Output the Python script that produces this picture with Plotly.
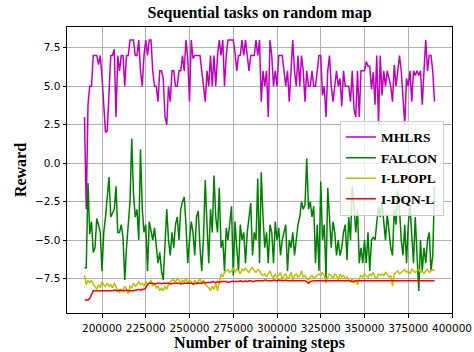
import plotly.graph_objects as go

# Training steps (one evaluation every 1000 steps)
steps = list(range(190000, 390001, 1000))

mhlrs = [
    3.0, -3.0, 3.8, 5.0, 5.0, 7.0, 7.0, 7.0, 6.4, 7.0,
    5.6, 4.0, 2.0, 2.1, 5.0, 7.0, 7.0, 7.4, 3.0, 7.0,
    6.0, 7.0, 7.0, 5.0, 7.0, 7.0, 8.0, 8.0, 8.0, 7.0,
    7.0, 8.0, 6.0, 5.0, 7.0, 8.0, 7.0, 8.0, 8.0, 6.0,
    5.0, 5.0, 4.0, 6.0, 6.0, 5.5, 3.0, 2.5, 5.0, 4.0,
    6.0, 6.0, 5.0, 5.0, 6.0, 6.0, 7.0, 6.0, 8.0, 6.8,
    4.0, 8.0, 6.8, 7.0, 7.0, 7.0, 7.0, 6.0, 5.0, 4.0,
    6.0, 5.0, 7.0, 5.0, 7.0, 5.0, 7.0, 8.0, 7.0, 8.0,
    5.0, 7.0, 8.0, 8.0, 8.0, 8.0, 7.2, 6.0, 7.0, 7.0,
    8.0, 7.0, 8.0, 7.0, 6.0, 7.0, 7.0, 7.0, 8.0, 7.0,
    8.0, 4.0, 6.0, 5.0, 6.0, 3.0, 8.0, 7.0, 5.0, 6.0,
    5.0, 7.0, 7.0, 7.0, 6.0, 5.0, 6.0, 4.0, 6.0, 8.0,
    6.0, 5.0, 7.0, 5.0, 7.0, 6.0, 4.0, 6.0, 5.0, 5.0,
    6.0, 5.0, 5.0, 6.0, 7.0, 7.0, 4.4, 5.0, 3.0, 6.0,
    7.0, 5.0, 4.0, 5.0, 6.0, 5.0, 5.5, 3.7, 6.0, 5.0,
    5.0, 5.0, 4.0, 6.0, 3.5, 3.0, 6.0, 3.0, 6.0, 6.0,
    6.0, 6.6, 6.3, 6.3, 4.8, 5.9, 3.8, 7.0, 2.5, 7.0,
    4.4, 6.0, 5.0, 6.0, 5.5, 5.0, 4.0, 6.4, 5.0, 6.0,
    7.0, 6.0, 4.0, 2.5, 5.5, 5.0, 6.0, 4.0, 6.0, 5.7,
    6.0, 5.7, 6.0, 3.8, 6.0, 8.0, 6.0, 7.0, 7.0, 6.0,
    4.0,
]

falcon = [
    -6.8, -6.8, -1.3, -4.6, -3.8, -5.8, -5.5, -3.6, -4.0, -4.5,
    -7.0, -4.5, -3.5, -2.3, -0.9, -3.5, -3.2, -3.0, -1.5, -4.5,
    -4.5, -4.0, -4.8, -7.6, -5.5, -4.0, -2.5, 1.6, -2.0, -3.5,
    -3.0, -5.0, 0.9, -3.0, -4.5, -4.0, -7.0, -3.8, -4.5, -5.0,
    -4.2, -5.5, -6.5, -5.8, -7.0, -7.6, -5.0, -3.0, -5.0, -6.0,
    -4.5, -5.5, -4.0, -3.5, -5.0, -3.0, -2.5, -2.2, -4.0, -6.5,
    -5.0, -3.8, -4.5, -6.0, -3.5, -3.1, -5.5, -7.0, -4.8, -1.1,
    -4.0, -6.5, -3.0, -4.5, -0.8, -3.5, -4.5, -1.6, -5.5, -5.0,
    -7.0, -4.2, -5.0, -4.0, -2.8, -7.3, -3.8, -5.5, -7.0, -4.0,
    -5.0, -4.5, -6.5, -4.5, -3.5, -2.6, -6.0, -4.5, -5.0, -1.0,
    -6.5, -0.6, -3.5, -5.5, -4.5, -6.5, -4.0, -4.5, -6.5, -3.8,
    -5.0, -4.2, -6.0, -5.0, -4.5, -4.0, -7.0, -5.0, -5.5, -4.5,
    -6.0, -5.0, -4.0, -3.5, -2.5, -3.0, -2.7, 0.3, -3.0, -2.5,
    -3.5, -2.8, -6.5, -4.0, -7.0, -1.2, -5.0, -4.0, -7.5, -1.6,
    -3.5, -5.5, -3.8, -4.5, -6.0, -5.0, -6.0, -5.5, -4.5, -4.0,
    -6.3, -3.5, -5.0, -1.5, -2.8, -4.5, -3.0, -6.5, -5.5, -6.5,
    -5.0, -6.5, -4.5, -7.0, -5.0, -4.8, -5.0, -4.0, -2.8, -3.5,
    -2.5, -3.8, -5.0, -3.3, -4.5, -5.5, -6.0, -3.0, -4.0, -1.8,
    -3.0, -5.0, -6.0, -4.0, -6.5, -4.0, -2.8, -4.5, -6.5, -3.5,
    -6.0, -8.3, -5.0, -7.0, -5.5, -6.5, -5.0, -4.5, -7.0, -6.0,
    -1.5,
]

ilpopl = [
    -7.3, -7.9, -7.6, -7.8, -7.6, -7.9, -8.0, -8.2, -7.9, -8.1,
    -7.7, -7.9, -8.0, -7.8, -8.0, -7.9, -8.1, -7.8, -8.0, -8.3,
    -8.4, -8.2, -8.3, -8.0, -8.2, -8.5, -8.0, -8.1, -7.8, -8.0,
    -7.9, -7.7, -7.9, -7.8, -8.0, -7.7, -7.9, -7.8, -7.6, -8.0,
    -7.8, -8.1, -8.0, -8.3, -8.1, -8.3, -8.0, -8.2, -7.9, -7.7,
    -7.6, -7.6, -7.7, -7.5, -7.6, -7.8, -7.6, -7.7, -7.5, -7.8,
    -7.6, -7.7, -7.9, -7.6, -7.8, -7.7, -7.5, -7.8, -7.6, -7.9,
    -8.0, -8.1, -8.3, -8.0, -8.2, -7.8, -8.3, -7.6, -7.2, -7.4,
    -7.1, -7.0, -6.9, -7.1, -7.0, -6.8, -7.1, -6.9, -7.0, -7.2,
    -6.9, -7.0, -6.8, -7.0, -7.1, -6.9, -6.8, -7.0, -7.1, -6.9,
    -7.0, -7.2, -7.3, -7.2, -7.4, -7.2, -7.0, -7.3, -7.5, -7.2,
    -7.4, -7.3, -7.1, -7.6, -7.3, -7.2, -7.5, -7.4, -7.1, -7.6,
    -7.3, -7.2, -7.4, -7.3, -7.0, -7.4, -7.3, -7.5, -7.6, -7.4,
    -7.3, -7.5, -7.4, -7.3, -7.2, -7.3, -7.1, -7.3, -7.8, -7.4,
    -7.2, -7.3, -7.5, -7.2, -7.3, -7.6, -7.2, -7.4, -7.3, -7.5,
    -7.4, -7.6, -7.7, -7.5, -7.8, -7.6, -7.9, -7.5, -7.3, -7.4,
    -7.2, -7.3, -7.4, -7.2, -7.3, -7.1, -7.4, -7.5, -7.2, -7.3,
    -7.2, -7.3, -7.1, -7.2, -7.4, -7.3, -8.0, -7.2, -7.1, -7.0,
    -7.2, -7.1, -7.0, -6.9, -7.1, -7.0, -7.2, -6.9, -7.0, -7.1,
    -7.0, -6.9, -7.1, -7.0, -7.2, -7.0, -6.9, -7.1, -7.0, -6.9,
    -7.0,
]

idqnl = [
    -8.9, -8.9, -8.9, -8.8, -8.5, -8.3, -8.3, -8.3, -8.3, -8.3,
    -8.3, -8.3, -8.3, -8.3, -8.3, -8.3, -8.3, -8.25, -8.3, -8.3,
    -8.25, -8.3, -8.3, -8.3, -8.25, -8.3, -8.3, -8.3, -8.3, -8.25,
    -8.25, -8.2, -8.25, -8.2, -8.2, -8.1, -7.9, -7.8, -7.8, -7.8,
    -7.85, -7.8, -7.8, -7.8, -7.85, -7.8, -7.8, -7.8, -7.8, -7.85,
    -7.8, -7.8, -7.8, -7.8, -7.8, -7.85, -7.8, -7.8, -7.8, -7.8,
    -7.8, -7.8, -7.85, -7.8, -7.8, -7.8, -7.8, -7.8, -7.75, -7.8,
    -7.75, -7.75, -7.75, -7.7, -7.75, -7.75, -7.7, -7.75, -7.7, -7.7,
    -7.7, -7.7, -7.75, -7.7, -7.7, -7.7, -7.7, -7.7, -7.7, -7.65,
    -7.7, -7.7, -7.65, -7.7, -7.65, -7.65, -7.7, -7.65, -7.65, -7.65,
    -7.65, -7.65, -7.65, -7.6, -7.65, -7.65, -7.65, -7.65, -7.6, -7.65,
    -7.65, -7.6, -7.65, -7.65, -7.65, -7.6, -7.65, -7.65, -7.65, -7.65,
    -7.65, -7.65, -7.65, -7.65, -7.65, -7.65, -7.65, -7.7, -7.8, -7.7,
    -7.65, -7.65, -7.65, -7.65, -7.65, -7.65, -7.65, -7.65, -7.65, -7.65,
    -7.65, -7.65, -7.65, -7.65, -7.65, -7.65, -7.65, -7.65, -7.65, -7.65,
    -7.65, -7.65, -7.65, -7.7, -7.65, -7.65, -7.65, -7.65, -7.65, -7.65,
    -7.65, -7.65, -7.65, -7.65, -7.65, -7.65, -7.65, -7.65, -7.65, -7.65,
    -7.65, -7.65, -7.65, -7.65, -7.65, -7.65, -7.65, -7.65, -7.65, -7.65,
    -7.65, -7.65, -7.65, -7.65, -7.65, -7.65, -7.65, -7.65, -7.65, -7.65,
    -7.65, -7.65, -7.65, -7.65, -7.65, -7.65, -7.65, -7.65, -7.65, -7.65,
    -7.65,
]

x_ticks = [200000, 225000, 250000, 275000, 300000, 325000, 350000, 375000, 400000]
y_ticks = [-7.5, -5.0, -2.5, 0.0, 2.5, 5.0, 7.5]

series = [
    ("MHLRS", mhlrs, "#bf00bf"),
    ("FALCON", falcon, "#008000"),
    ("I-LPOPL", ilpopl, "#bfbf00"),
    ("I-DQN-L", idqnl, "#ff0000"),
]

serif = "Liberation Serif, Times New Roman, serif"
sans = "DejaVu Sans, sans-serif"

fig = go.Figure()
for name, vals, color in series:
    fig.add_trace(go.Scatter(
        x=steps, y=vals, mode="lines", name=name,
        line=dict(color=color, width=1.5),
    ))

fig.update_layout(
    width=474, height=352,
    margin=dict(l=67, r=22, t=27, b=39),
    paper_bgcolor="white", plot_bgcolor="white",
    title=dict(
        text="Sequential tasks on random map",
        x=0.5475, xanchor="center", y=0.965, yanchor="middle",
        font=dict(family=serif, size=16, color="black", weight="bold"),
    ),
    legend=dict(
        x=0.979, xanchor="right", y=0.672, yanchor="top",
        bgcolor="rgba(255,255,255,0.8)", bordercolor="#cccccc", borderwidth=1,
        font=dict(family=serif, size=13.5, color="black", weight="bold"),
        itemwidth=30, tracegroupgap=0,
    ),
    xaxis=dict(
        range=[180000, 400000], automargin=False,
        tickvals=x_ticks, ticktext=[str(v) for v in x_ticks],
        showgrid=True, gridcolor="#b0b0b0", gridwidth=1,
        showline=True, linecolor="black", linewidth=1, mirror=True,
        ticks="outside", ticklen=3.5, tickcolor="black",
        tickfont=dict(family=sans, size=10.5, color="black"),
        ticklabelstandoff=2,
        zeroline=False,
        title=dict(text="Number of training steps", standoff=4,
                   font=dict(family=serif, size=16, color="black", weight="bold")),
    ),
    yaxis=dict(
        range=[-9.74, 8.85], automargin=False,
        tickvals=y_ticks, ticktext=[f"{v:.1f}".replace("-", "\u2212") for v in y_ticks],
        showgrid=True, gridcolor="#b0b0b0", gridwidth=1,
        showline=True, linecolor="black", linewidth=1, mirror=True,
        ticks="outside", ticklen=3.5, tickcolor="black",
        tickfont=dict(family=sans, size=10.5, color="black"),
        zeroline=False,
        title=dict(text="Reward", standoff=4,
                   font=dict(family=serif, size=16, color="black", weight="bold")),
    ),
)

fig.write_html("out.html")
